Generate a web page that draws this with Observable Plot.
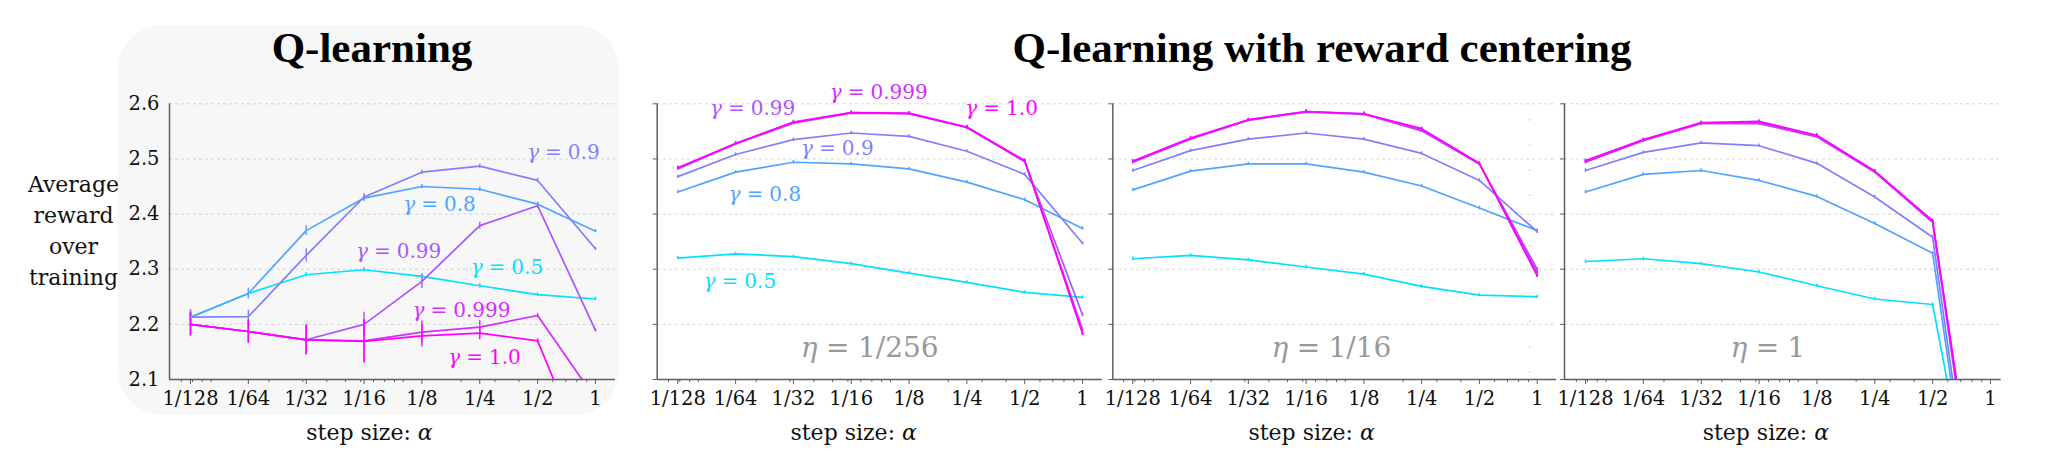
<!DOCTYPE html>
<html><head><meta charset="utf-8">
<script src="https://cdn.jsdelivr.net/npm/d3@7"></script>
<script src="https://cdn.jsdelivr.net/npm/@observablehq/plot@0.6"></script>
<style>
body{margin:0;background:#fff;}
#root{position:relative;width:2055px;height:465px;overflow:hidden;font-family:"DejaVu Serif",serif;background:#fff;}
.bg{position:absolute;left:118px;top:25px;width:501px;height:390px;border-radius:44px;background:#f7f7f7;}
.pl{position:absolute;top:0;}
.pl svg, .pl svg text, .pl svg tspan{font-family:"DejaVu Serif",serif !important;}
#titles{position:absolute;left:0;top:0;}
</style></head><body><div id="root"><div class="bg"></div></div>
<script>
// ---------- data ----------
const alphas = [1/128, 1/64, 1/32, 1/16, 1/8, 1/4, 1/2, 1];
const alphaLabels = ["1/128", "1/64", "1/32", "1/16", "1/8", "1/4", "1/2", "1"];
const minorTicks = [0.006, 0.007, 0.008, 0.009, 0.01, 0.02, 0.03, 0.04, 0.05, 0.06, 0.07, 0.08, 0.09, 0.1, 0.2, 0.3, 0.4, 0.6, 0.7, 0.8, 0.9];
const yTicks = [2.1, 2.2, 2.3, 2.4, 2.5, 2.6];
const gridY = [2.2, 2.3, 2.4, 2.5, 2.6];
const gammas = ["0.5", "0.8", "0.9", "0.99", "0.999", "1.0"];
const gammaColors = ["#00e0ff", "#4ea5ff", "#8080ff", "#aa55ff", "#d42bff", "#ff00ff"];

// Q-learning (no centering)
const q_g05   = [2.213, 2.256, 2.290, 2.299, 2.287, 2.270, 2.254, 2.246];
const q_g08   = [2.213, 2.256, 2.370, 2.429, 2.450, 2.445, 2.418, 2.369];
const q_g09   = [2.213, 2.214, 2.325, 2.431, 2.476, 2.487, 2.461, 2.337];
const q_g099  = [2.200, 2.187, 2.172, 2.200, 2.278, 2.379, 2.415, 2.189];
const q_g0999 = [2.200, 2.187, 2.172, 2.170, 2.186, 2.195, 2.216, 2.065];
const q_g1    = [2.200, 2.187, 2.172, 2.169, 2.179, 2.184, 2.170, 1.917];
// Q-learning standard errors
const qe_g05   = [0.013, 0.006, 0.004, 0.004, 0.004, 0.004, 0.003, 0.003];
const qe_g08   = [0.013, 0.010, 0.009, 0.006, 0.004, 0.004, 0.004, 0.003];
const qe_g09   = [0.013, 0.012, 0.012, 0.006, 0.004, 0.004, 0.004, 0.003];
const qe_g099  = [0.020, 0.020, 0.026, 0.022, 0.013, 0.006, 0.004, 0.003];
const qe_g0999 = [0.021, 0.021, 0.027, 0.039, 0.020, 0.012, 0.004, 0.003];
const qe_g1    = [0.021, 0.021, 0.027, 0.039, 0.020, 0.012, 0.004, 0.003];

// Q-learning with reward centering, eta = 1/256
const a_g05   = [2.320, 2.328, 2.323, 2.310, 2.293, 2.276, 2.258, 2.249];
const a_g08   = [2.440, 2.476, 2.494, 2.491, 2.482, 2.458, 2.426, 2.374];
const a_g09   = [2.468, 2.508, 2.535, 2.547, 2.541, 2.514, 2.472, 2.347];
const a_g099  = [2.482, 2.527, 2.565, 2.583, 2.582, 2.557, 2.495, 2.217];
const a_g0999 = [2.483, 2.528, 2.566, 2.584, 2.582, 2.557, 2.496, 2.190];
const a_g1    = [2.484, 2.528, 2.567, 2.584, 2.583, 2.558, 2.497, 2.183];
// eta = 1/16
const b_g05   = [2.319, 2.325, 2.317, 2.304, 2.291, 2.269, 2.253, 2.250];
const b_g08   = [2.444, 2.478, 2.491, 2.491, 2.476, 2.451, 2.411, 2.370];
const b_g09   = [2.479, 2.515, 2.536, 2.547, 2.536, 2.510, 2.461, 2.368];
const b_g099  = [2.494, 2.536, 2.570, 2.585, 2.581, 2.551, 2.491, 2.300];
const b_g0999 = [2.495, 2.537, 2.571, 2.586, 2.582, 2.553, 2.491, 2.294];
const b_g1    = [2.496, 2.538, 2.571, 2.586, 2.582, 2.555, 2.492, 2.288];
// eta = 1
const c_g05   = [2.314, 2.319, 2.310, 2.295, 2.270, 2.246, 2.236, 1.686];
const c_g08   = [2.440, 2.472, 2.479, 2.461, 2.432, 2.383, 2.329, 1.600];
const c_g09   = [2.479, 2.512, 2.529, 2.524, 2.492, 2.431, 2.358, 1.610];
const c_g099  = [2.494, 2.533, 2.564, 2.564, 2.540, 2.476, 2.385, 1.660];
const c_g0999 = [2.495, 2.534, 2.565, 2.566, 2.541, 2.477, 2.386, 1.680];
const c_g1    = [2.497, 2.535, 2.566, 2.568, 2.543, 2.478, 2.388, 1.690];
const rcErr = 0.003;

// faint dotted vertical guide seen in the eta = 1/16 panel
const guideX = [0.915];
const guideY = [2.112, 2.612];

// series label anchors (alpha, reward)
const qLabelX  = [0.346, 0.1543, 0.681, 0.0946, 0.2008, 0.2647];
const qLabelY  = [2.292, 2.406, 2.499, 2.321, 2.214, 2.129];
const rcLabelX = [0.01644, 0.02219, 0.0529, 0.01915, 0.0869, 0.379];
const rcLabelY = [2.2666, 2.4245, 2.508, 2.579, 2.609, 2.579];
const etaLabels = ["η = 1/256", "η = 1/16", "η = 1"];
const etaX = [0.078, 0.0847, 0.0695];
const etaY = 2.14;

const titleLeft = "Q-learning";
const titleRight = "Q-learning with reward centering";
const xLabel = "step size: α";
const yLabel = "Average\nreward\nover\ntraining";

// ---------- build ----------
function table(series, errs) {
  const rows = [];
  series.forEach((vals, gi) => vals.forEach((v, ai) =>
    rows.push({g: gammas[gi], a: alphas[ai], v, e: errs ? errs[gi][ai] : rcErr})));
  return rows;
}
const tick = new Map(alphas.map((a, i) => [a, alphaLabels[i]]));

const panels = [
  {left: 0, width: 630, ml: 169, mr: 15, padL: 0.363, padR: 0.346, xdx: -23,
   rows: table([q_g05, q_g08, q_g09, q_g099, q_g0999, q_g1], [qe_g05, qe_g08, qe_g09, qe_g099, qe_g0999, qe_g1]),
   labels: gammas.map((g, i) => ({g, x: qLabelX[i], y: qLabelY[i], t: "γ = " + g})), first: true},
  {left: 620, width: 490, ml: 36.7, mr: 8.3, padL: 0.356, padR: 0.34, xdx: -26,
   rows: table([a_g05, a_g08, a_g09, a_g099, a_g0999, a_g1]),
   labels: gammas.map((g, i) => ({g, x: rcLabelX[i], y: rcLabelY[i], t: "γ = " + g})), eta: 0},
  {left: 1105, width: 455, ml: 7.3, mr: 4, padL: 0.346, padR: 0.334, xdx: -23,
   rows: table([b_g05, b_g08, b_g09, b_g099, b_g0999, b_g1]), labels: [], eta: 1, guide: true},
  {left: 1558, width: 497, ml: 6, mr: 54.3, padL: 0.363, padR: 0.185, xdx: -17,
   rows: table([c_g05, c_g08, c_g09, c_g099, c_g0999, c_g1]), labels: [], eta: 2}
];

function mathify(svg) {
  svg.querySelectorAll("text").forEach(t => {
    if (t.querySelector("tspan")) return;
    const s = t.textContent;
    const m = s.match(/^([γη]) = (.+)$/);
    const NS = "http://www.w3.org/2000/svg";
    if (m) {
      t.textContent = "";
      const a = document.createElementNS(NS, "tspan"); a.setAttribute("font-style", "italic"); a.textContent = m[1];
      const b = document.createElementNS(NS, "tspan"); b.setAttribute("dx", "0.3em"); b.textContent = "=";
      const c = document.createElementNS(NS, "tspan"); c.setAttribute("dx", "0.3em"); c.textContent = m[2];
      t.append(a, b, c);
    } else if (s === xLabel) {
      t.textContent = "step size: ";
      const a = document.createElementNS(NS, "tspan"); a.setAttribute("font-style", "italic"); a.textContent = "α";
      t.append(a);
    }
  });
}

const root = document.getElementById("root");
const axisColor = "#5e5e5e";

panels.forEach(p => {
  const domain = [2 ** (-7 - p.padL), 2 ** p.padR];
  const inDom = minorTicks.filter(d => d >= domain[0] && d <= domain[1]);
  const marks = [
    Plot.ruleY(gridY, {stroke: "#d4d4d4", strokeDasharray: "3,3", strokeWidth: 1}),
    Plot.axisX({ticks: inDom, tickSize: 3, tickFormat: () => "", label: null, stroke: axisColor}),
    Plot.axisX({ticks: alphas, tickSize: 5, tickPadding: 7, tickFormat: d => tick.get(d), label: null,
      stroke: axisColor, fill: "#111", fontSize: 19.5}),
    Plot.ruleX([domain[0]], {y1: 2.1, y2: 2.6, stroke: axisColor, strokeWidth: 1.5}),
    Plot.ruleY([2.1], {stroke: axisColor, strokeWidth: 1.5})
  ];
  if (p.guide) {
    marks.push(Plot.ruleX(guideX, {y1: guideY[0], y2: guideY[1], stroke: "#b5b5b5", strokeWidth: 1.2,
      strokeDasharray: "1.2,24"}));
  }
  marks.push(
    Plot.ruleX(p.rows, {x: "a", y1: d => d.v - d.e, y2: d => d.v + d.e, stroke: "g", strokeWidth: 1.4, clip: true}),
    Plot.line(p.rows, {x: "a", y: "v", z: "g", stroke: "g", strokeWidth: 1.7, clip: true}),
    Plot.text(p.labels, {x: "x", y: "y", text: "t", fill: "g", fontSize: 20, textAnchor: "middle", lineAnchor: "bottom"}),
    Plot.text([xLabel], {frameAnchor: "bottom", dy: 60, dx: p.xdx, lineAnchor: "bottom", fontSize: 22, fill: "#111"})
  );
  if (p.first) {
    marks.push(Plot.axisY({ticks: yTicks, tickSize: 0, tickPadding: 10, tickFormat: d => d.toFixed(1), label: null,
      fill: "#111", fontSize: 19.5}));
    marks.push(Plot.text([yLabel], {frameAnchor: "top-left", dx: -96, dy: 66.7, lineAnchor: "top", textAnchor: "middle",
      fontSize: 22, lineHeight: 1.4, fill: "#111"}));
  } else {
    marks.push(Plot.axisY({ticks: yTicks, tickSize: 4, tickFormat: () => "", label: null, stroke: axisColor}));
  }
  if (p.eta !== undefined) {
    marks.push(Plot.text([etaLabels[p.eta]], {x: [etaX[p.eta]], y: [etaY], text: d => d, fill: "#999", fontSize: 28,
      textAnchor: "middle", lineAnchor: "bottom"}));
  }
  const svg = Plot.plot({
    width: p.width, height: 465,
    marginLeft: p.ml, marginRight: p.mr, marginTop: 103.3, marginBottom: 86,
    x: {type: "log", base: 2, domain},
    y: {domain: [2.1, 2.6]},
    color: {domain: gammas, range: gammaColors},
    style: {"background": "transparent", "font-family": "DejaVu Serif, serif", "overflow": "visible"},
    marks
  });
  svg.setAttribute("font-family", "DejaVu Serif, serif");
  mathify(svg);
  const div = document.createElement("div");
  div.className = "pl";
  div.style.left = p.left + "px";
  div.appendChild(svg);
  root.appendChild(div);
});

// titles
const t = d3.select(root).append("svg").attr("id", "titles").attr("width", 2055).attr("height", 465);
t.append("text").attr("x", 372).attr("y", 62).attr("text-anchor", "middle")
  .attr("font-family", "Liberation Serif").attr("font-weight", "bold").attr("font-size", 43).attr("fill", "#000").text(titleLeft);
t.append("text").attr("x", 1322).attr("y", 62).attr("text-anchor", "middle")
  .attr("font-family", "Liberation Serif").attr("font-weight", "bold").attr("font-size", 43).attr("fill", "#000").text(titleRight);
</script>
</body></html>
